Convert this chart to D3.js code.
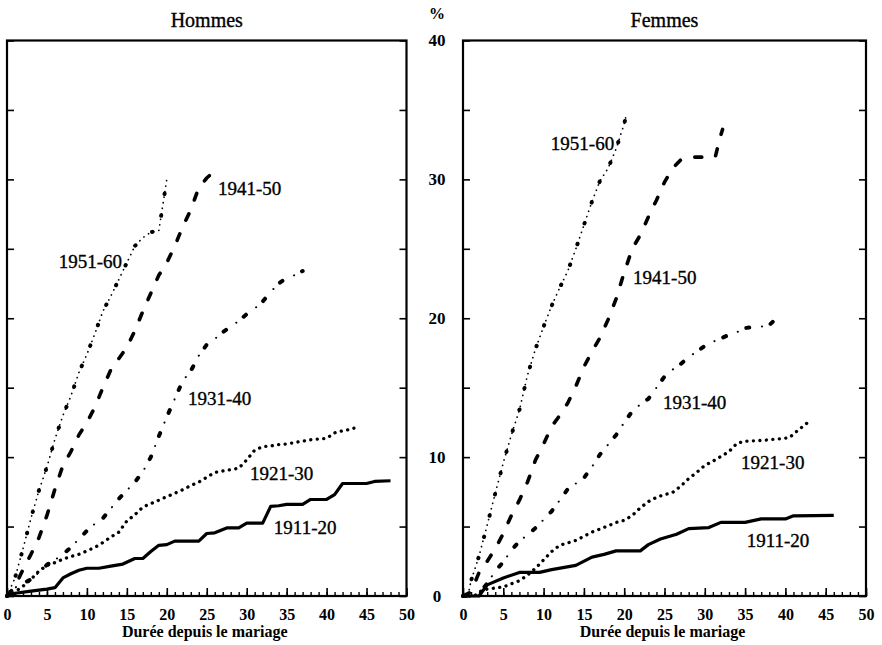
<!DOCTYPE html>
<html><head><meta charset="utf-8">
<script src="https://cdn.jsdelivr.net/npm/d3@7"></script>
<style>
html,body{margin:0;padding:0;background:#fff;}
svg{display:block;}
text{font-family:"Liberation Serif","DejaVu Serif",serif;fill:#000;}
</style></head>
<body>
<svg id="chart" width="882" height="645"></svg>
<script>
// ---------- data ----------
const panelTitles = ["Hommes", "Femmes"];
const xTitle = "Durée depuis le mariage";
const yUnit = "%";
const xTickLabels = [0, 5, 10, 15, 20, 25, 30, 35, 40, 45, 50];
const yTickLabels = [0, 10, 20, 30, 40];
const cohorts = ["1911-20", "1921-30", "1931-40", "1941-50", "1951-60"];

// Hommes: [durée, %]
const h1911 = [[0,0],[1,0.2],[3,0.35],[5,0.5],[6,0.6],[7,1.3],[8,1.6],[9,1.85],[10,2.0],[11.5,2.0],[13,2.15],[14.5,2.3],[16,2.7],[17,2.7],[18,3.2],[19,3.65],[20,3.7],[21,3.95],[24,3.95],[25,4.5],[26,4.55],[27.5,4.9],[29,4.9],[30,5.25],[32,5.25],[33,6.45],[34,6.5],[35,6.6],[37,6.6],[38,6.95],[40,6.95],[41,7.3],[42,8.1],[45,8.1],[46,8.25],[48,8.3]];
const h1921 = [[0,0],[1,0.3],[2,0.7],[3,1.2],[4,1.8],[5,2.2],[6,2.4],[7,2.65],[8,2.85],[9,3.0],[10,3.25],[11,3.5],[12,3.85],[13,4.25],[14,4.6],[15,5.4],[16,5.85],[17,6.4],[18,6.65],[19,6.9],[20,7.15],[21,7.4],[22,7.65],[23,7.95],[24,8.2],[25,8.55],[26,8.9],[27,9.0],[28,9.1],[29,9.2],[30,9.8],[31,10.5],[32,10.75],[33,10.8],[34,10.9],[35,10.95],[36,11.05],[37,11.15],[38,11.25],[39,11.3],[40,11.35],[41,11.75],[42,11.9],[43,12.0],[44,12.2]];
const h1931 = [[0,0],[1,0.6],[2,0.9],[3,1.2],[4,1.7],[5,2.25],[6,2.6],[7,3.0],[8,3.5],[9,4.1],[10,4.7],[11,5.2],[12,5.6],[13,6.3],[14,7.0],[15,7.6],[16,8.2],[17,8.95],[18,10.0],[19,11.5],[20,12.9],[21,14.2],[22,15.5],[23,16.2],[24,17.3],[25,18.1],[26,18.5],[27,19.0],[28,19.4],[29,19.8],[30,20.3],[31,20.7],[32,21.2],[33,21.9],[34,22.5],[35,22.9],[36,23.1],[37,23.4]];
const h1941 = [[0,0],[1,0.7],[2,1.9],[3,3.0],[4,4.2],[5,5.8],[6,7.7],[7,9.4],[8,10.4],[9,11.6],[10,12.5],[11,13.6],[12,15.0],[13,16.3],[14,17.1],[15,17.9],[16,19.1],[17,20.5],[18,21.8],[19,23.1],[20,24.0],[21,25.2],[22,26.6],[23,27.8],[24,29.4],[25,30.1],[26,30.6]];
const h1951 = [[0,0],[1,1.3],[2,3.4],[3,5.6],[4,7.6],[5,9.3],[6,11.3],[7,13.0],[8,14.4],[9,16.1],[10,17.4],[11,18.9],[12,20.5],[13,21.6],[14,22.8],[15,24.0],[16,25.2],[17,25.8],[18,26.2],[19,26.3],[20,30.0]];

// Femmes: [durée, %]
const f1911 = [[0,0],[2,0],[3,0.8],[5,1.3],[7,1.7],[9.5,1.7],[11,1.9],[14,2.2],[16,2.8],[17.5,3.0],[19,3.25],[22,3.25],[23,3.7],[24.5,4.1],[26.5,4.45],[28,4.85],[30.5,4.93],[32,5.3],[35,5.3],[37,5.55],[40,5.55],[41,5.77],[46,5.8]];
const f1921 = [[0,0],[1.5,0],[2,0.3],[3,0.5],[5,0.65],[7,1.1],[8,1.5],[9,2.0],[10,2.6],[11,3.2],[12,3.65],[14,4.0],[16,4.6],[18,5.05],[19,5.3],[20,5.45],[21,5.8],[22,6.35],[23,6.8],[24,7.1],[25,7.3],[26,7.45],[27,7.9],[28,8.45],[29,8.9],[30,9.4],[31,9.7],[32,10.05],[33,10.4],[34,11.0],[35,11.15],[37,11.2],[39,11.3],[40.5,11.4],[41.5,11.9],[43,12.6]];
const f1931 = [[0,0],[1,0],[2,0.2],[3,0.9],[4,1.8],[5,2.45],[6,3.3],[7,3.95],[8,4.4],[9,4.9],[10,5.5],[11,6.1],[12,6.9],[13,7.7],[14,8.1],[15,8.5],[16,9.3],[17,10.2],[18,10.9],[19,11.6],[20,12.5],[21,13.3],[22,13.8],[23,14.2],[24,15.0],[25,15.8],[26,16.3],[27,16.7],[28,17.2],[29,17.6],[30,18.0],[31,18.3],[32,18.55],[33,18.8],[34,19.0],[35,19.3],[36,19.35],[37,19.4],[38,19.5],[38.7,19.9]];
const f1941 = [[0,0],[1,0.3],[2,1.7],[3,2.5],[4,3.4],[5,4.5],[6,5.8],[7,6.9],[8,8.2],[9,9.8],[10,10.95],[11,12.2],[12,13.0],[13,13.9],[14,15.1],[15,16.5],[16,17.6],[17,18.6],[18,19.9],[19,21.4],[20,23.3],[21,25.0],[22,26.0],[23,27.3],[24,28.5],[25,29.8],[26,30.8],[27,31.4],[28,31.6],[31.3,31.6],[31.8,32.8],[32.2,33.6]];
const f1951 = [[0,0],[0.6,0],[1,1.1],[2,2.9],[3,5.1],[4,7.4],[5,9.6],[6,11.6],[7,13.4],[8,15.9],[9,17.8],[10,19.4],[11,20.9],[12,22.2],[13,23.4],[14,25.0],[15,26.7],[16,28.4],[17,29.9],[18,30.8],[19,32.2],[20,34.0],[20.2,34.5]];

// label anchors in data units [durée, %]
const hLabelPos = [[33.4,4.5],[30.4,8.35],[22.65,13.75],[26.4,28.9],[14.4,23.6]];
const fLabelPos = [[35.2,3.5],[34.5,9.15],[24.8,13.45],[21.1,22.5],[10.9,32.1]];

const panels = [
  {title: panelTitles[0], series: [h1911,h1921,h1931,h1941,h1951], labels: hLabelPos, x0: 7, x1: 406.5},
  {title: panelTitles[1], series: [f1911,f1921,f1931,f1941,f1951], labels: fLabelPos, x0: 463, x1: 866}
];

// ---------- drawing ----------
const svg = d3.select("#chart");
svg.append("rect").attr("width",882).attr("height",645).attr("fill","#fff");

const yTop = 40.5, yBot = 596;
const y = d3.scaleLinear().domain([0,40]).range([yBot, yTop]);

// styles per cohort: list of stroke layers
const styles = [
  [{w:3.2, dash:null, cap:"butt"}],
  [{w:3.3, dash:"0.1,6.4", cap:"round"}],
  [{w:4, dash:"3,22", cap:"round"}, {w:2, dash:"0.1,12.5", cap:"round"}],
  [{w:3.6, dash:"7,15", cap:"round"}],
  [{w:4, dash:"0.5,21.5", cap:"round"}, {w:1.7, dash:"0.1,5.5", cap:"round"}]
];
const labelAnchor = [["start","start","start","start","end"],["start","start","start","start","start"]];

panels.forEach((p, pi) => {
  const x = d3.scaleLinear().domain([0,50]).range([p.x0, p.x1]);
  const g = svg.append("g");

  // minor x ticks
  g.append("g").attr("transform",`translate(0,${yBot})`)
    .call(d3.axisBottom(x).tickValues(d3.range(0,51,1)).tickSize(-4).tickFormat(""))
    .call(s => { s.select(".domain").remove(); s.selectAll("line").attr("stroke","#000").attr("stroke-width",1.4); });
  // major x ticks with labels
  g.append("g").attr("transform",`translate(0,${yBot})`)
    .call(d3.axisBottom(x).tickValues(xTickLabels).tickSize(-8).tickPadding(13).tickFormat(d3.format("d")))
    .call(s => {
      s.select(".domain").remove();
      s.selectAll("line").attr("stroke","#000").attr("stroke-width",1.6);
      s.selectAll("text").attr("font-family","Liberation Serif").attr("font-size",16).attr("font-weight","bold")
        .attr("fill","#000");
    });
  // y ticks left and right, inward
  g.append("g").attr("transform",`translate(${p.x0},0)`)
    .call(d3.axisLeft(y).tickValues(d3.range(0,41,5)).tickSize(-7).tickFormat(""))
    .call(s => { s.select(".domain").remove(); s.selectAll("line").attr("stroke","#000").attr("stroke-width",1.6); });
  g.append("g").attr("transform",`translate(${p.x1},0)`)
    .call(d3.axisRight(y).tickValues(d3.range(0,41,5)).tickSize(-7).tickFormat(""))
    .call(s => { s.select(".domain").remove(); s.selectAll("line").attr("stroke","#000").attr("stroke-width",1.6); });

  // frame
  g.append("rect").attr("x",p.x0).attr("y",yTop).attr("width",p.x1-p.x0).attr("height",yBot-yTop)
    .attr("fill","none").attr("stroke","#000").attr("stroke-width",2.2);

  // lines
  const line = d3.line().x(d => x(d[0])).y(d => y(d[1]));
  p.series.forEach((data, si) => {
    styles[si].forEach(st => {
      const path = g.append("path").datum(data).attr("d", line)
        .attr("fill","none").attr("stroke","#000").attr("stroke-width", st.w)
        .attr("stroke-linecap", st.cap).attr("stroke-linejoin","round");
      if (st.dash) path.attr("stroke-dasharray", st.dash);
    });
  });

  // series labels
  p.labels.forEach((pos, si) => {
    g.append("text").attr("x", x(pos[0])).attr("y", y(pos[1]))
      .attr("text-anchor", labelAnchor[pi][si])
      .attr("font-size", 19).attr("stroke","#000").attr("stroke-width",0.35).text(cohorts[si]);
  });

  // title
  g.append("text").attr("x",(p.x0+p.x1)/2).attr("y",27).attr("text-anchor","middle")
    .attr("font-size",20).attr("stroke","#000").attr("stroke-width",0.35).text(p.title);
  // x title
  g.append("text").attr("x",(p.x0+p.x1)/2 - 2).attr("y",637).attr("text-anchor","middle")
    .attr("font-size",16).attr("font-weight","bold").text(xTitle);
});

// shared y labels between panels
svg.append("g").selectAll("text").data(yTickLabels).join("text")
  .attr("x",437).attr("y", d => y(d)).attr("dy","0.35em").attr("text-anchor","middle")
  .attr("font-size",17).attr("font-weight","bold").text(d => d);
svg.append("text").attr("x",437).attr("y",19).attr("text-anchor","middle")
  .attr("font-size",16).attr("font-weight","bold").text(yUnit);
</script>
</body></html>
